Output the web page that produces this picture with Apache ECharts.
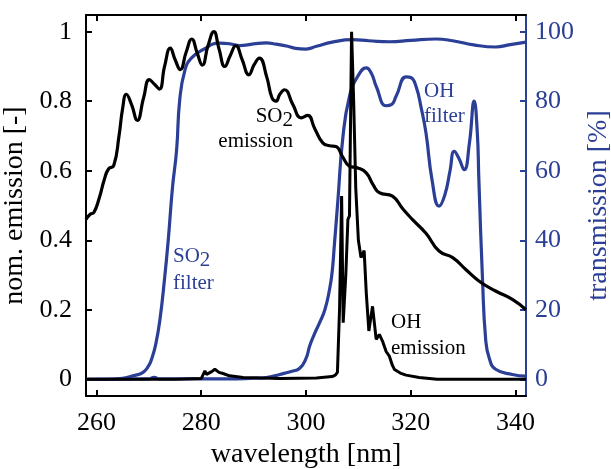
<!DOCTYPE html>
<html>
<head>
<meta charset="utf-8">
<script src="https://cdn.jsdelivr.net/npm/echarts@6.0.0/dist/echarts.min.js"></script>
<style>
  html, body { margin: 0; padding: 0; background: #fff; }
  #chart { width: 611px; height: 469px; }
</style>
</head>
<body>
<div id="chart"></div>
<script>
// tick labels
const xTicks = [260, 280, 300, 320, 340];
const leftTicks = [0, 0.2, 0.4, 0.6, 0.8, 1];
const rightTicks = [0, 20, 40, 60, 80, 100];

// SO2 emission (normalised, left axis)
const so2EmWl = [258.0, 258.8, 259.5, 260.5, 261.5, 262.3, 263.3, 264.3, 265.0, 265.7, 266.7, 267.8, 269.0, 270.1, 271.0, 272.0, 273.0, 274.1, 275.0, 276.0, 277.1, 278.2, 279.2, 280.2, 281.3, 282.4, 283.4, 284.5, 285.5, 286.6, 287.8, 289.1, 290.1, 291.1, 292.5, 293.5, 294.3, 295.0, 295.9, 297.5, 299.1, 300.3, 301.7, 303.2, 304.5, 305.7, 307.0, 308.3, 309.9, 311.5, 312.8, 314.0, 316.5, 318.5, 320.3, 322.9, 325.4, 328.0, 330.5, 333.0, 336.2, 339.4, 342.0];
const so2EmVal = [0.46, 0.475, 0.48, 0.52, 0.575, 0.605, 0.615, 0.70, 0.78, 0.82, 0.79, 0.745, 0.81, 0.862, 0.85, 0.835, 0.90, 0.953, 0.92, 0.891, 0.94, 0.979, 0.94, 0.904, 0.96, 1.0, 0.95, 0.90, 0.93, 0.96, 0.92, 0.876, 0.905, 0.924, 0.87, 0.81, 0.80, 0.82, 0.833, 0.79, 0.752, 0.759, 0.72, 0.68, 0.672, 0.67, 0.64, 0.613, 0.608, 0.594, 0.56, 0.537, 0.527, 0.49, 0.46, 0.42, 0.369, 0.35, 0.316, 0.283, 0.254, 0.23, 0.20];

// OH emission (normalised, left axis)
const ohEmWl = [258.0, 275.0, 280.0, 280.7, 281.0, 282.0, 282.6, 283.4, 284.3, 285.4, 288.0, 295.0, 302.0, 305.0, 305.6, 306.0, 306.4, 306.8, 307.1, 307.6, 308.0, 308.3, 308.7, 309.1, 309.5, 310.0, 310.5, 310.8, 311.1, 311.5, 312.0, 312.7, 313.4, 314.0, 314.6, 315.3, 315.9, 316.5, 316.9, 318.0, 319.1, 321.6, 325.0, 342.0];
const ohEmVal = [0, 0, 0.002, 0.024, 0.014, 0.022, 0.029, 0.02, 0.016, 0.01, 0.005, 0.002, 0.004, 0.008, 0.012, 0.02, 0.2, 0.527, 0.163, 0.30, 0.46, 0.47, 1.0, 0.80, 0.55, 0.40, 0.35, 0.345, 0.37, 0.25, 0.139, 0.21, 0.115, 0.129, 0.11, 0.08, 0.067, 0.04, 0.028, 0.018, 0.012, 0.005, 0.0, 0.0];

// SO2 filter transmission (%, right axis)
const so2FiWl = [258.0, 262.0, 265.0, 267.0, 268.9, 270.0, 270.5, 271.3, 272.1, 273.0, 273.7, 274.5, 275.3, 275.9, 276.9, 278.1, 280.3, 283.5, 285.5, 287.3, 290.0, 292.4, 294.3, 296.5, 298.0, 300.0, 302.0, 305.0, 308.9, 312.0, 316.0, 320.0, 324.8, 328.0, 332.0, 336.2, 339.0, 342.0];
const so2FiVal = [0, 0, 0.3, 1.0, 2.0, 4.0, 5.7, 10, 17, 29, 40, 55, 66, 80.5, 89, 92.4, 94.8, 96.7, 96.5, 96.0, 96.5, 96.8, 96.4, 95.8, 95.2, 95.0, 95.8, 97.0, 97.7, 97.4, 97.1, 97.5, 97.9, 97.4, 96.2, 95.6, 96.3, 97.0];

// OH filter transmission (%, right axis)
const ohFiWl = [258.0, 270.0, 271.0, 272.0, 285.0, 290.0, 292.4, 295.0, 297.0, 298.8, 300.0, 300.7, 301.6, 302.6, 303.6, 304.5, 305.0, 305.4, 306.1, 307.0, 308.3, 309.9, 311.5, 312.5, 313.4, 315.3, 316.3, 317.2, 319.1, 320.0, 321.0, 322.0, 322.9, 324.1, 325.4, 326.5, 327.5, 328.3, 329.2, 330.2, 331.2, 332.1, 332.7, 333.0, 333.7, 334.3, 335.0, 336.2, 339.4, 342.0];
const ohFiVal = [0, 0.1, 0.6, 0.1, 0.1, 0.3, 0.5, 1.4, 2.2, 3.2, 6.0, 9.6, 13, 16.3, 20, 25.9, 31, 38.3, 51.7, 69, 81.4, 87.2, 89.6, 88, 84.3, 78.7, 79, 81.4, 87, 86.8, 84.3, 78, 70.9, 57, 49.8, 53, 60, 65.6, 63.5, 60.3, 68, 80, 71, 57.5, 28.7, 11.5, 6, 2.9, 1.4, 0.9];

const pairs = (xs, ys) => xs.map((x, i) => [x, ys[i]]);

const FONT = '"Liberation Serif", "DejaVu Serif", serif';
const BLUE = '#2b3f96';
const BLACK = '#000';

let chart = echarts.init(document.getElementById('chart'));

function label(text, x, y, color, align) {
    return {
        type: 'text', x: x, y: y, z: 100,
        style: {
            text: text, fill: color, font: '21px ' + FONT,
            align: align, verticalAlign: 'middle'
        }
    };
}

const option = {
    animation: false,
    backgroundColor: '#fff',
    grid: { left: 86, right: 85, top: 15, bottom: 73, containLabel: false, outerBoundsMode: 'none' },
    xAxis: [{
        type: 'value', min: 258, max: 342, position: 'bottom',
        axisLine: { show: true, onZero: false, lineStyle: { color: BLACK, width: 2 } },
        axisTick: { show: true, inside: true, length: 6, customValues: xTicks, lineStyle: { color: BLACK, width: 2 } },
        axisLabel: { customValues: xTicks, fontFamily: FONT, fontSize: 26, color: BLACK, margin: 14 },
        splitLine: { show: false },
        name: 'wavelength [nm]', nameLocation: 'middle', nameGap: 41,
        nameTextStyle: { fontFamily: FONT, fontSize: 28, color: BLACK }
    }, {
        type: 'value', min: 258, max: 342, position: 'top',
        axisLine: { show: true, onZero: false, lineStyle: { color: BLACK, width: 2 } },
        axisTick: { show: true, inside: true, length: 6, customValues: xTicks, lineStyle: { color: BLACK, width: 2 } },
        axisLabel: { show: false },
        splitLine: { show: false }
    }],
    yAxis: [{
        type: 'value', min: -0.048, max: 1.048, position: 'left',
        axisLine: { show: true, onZero: false, lineStyle: { color: BLACK, width: 2 } },
        axisTick: { show: true, inside: true, length: 6, customValues: leftTicks, lineStyle: { color: BLACK, width: 2 } },
        axisLabel: { customValues: leftTicks, fontFamily: FONT, fontSize: 26, color: BLACK, margin: 14 },
        splitLine: { show: false },
        name: 'nom. emission [-]', nameLocation: 'middle', nameGap: 37,
        nameTextStyle: { fontFamily: FONT, fontSize: 28, color: BLACK }
    }, {
        type: 'value', min: -4.8, max: 104.8, position: 'right',
        axisLine: { show: true, onZero: false, lineStyle: { color: BLUE, width: 2 } },
        axisTick: { show: true, inside: true, length: 6, customValues: rightTicks, lineStyle: { color: BLUE, width: 2 } },
        axisLabel: { customValues: rightTicks, fontFamily: FONT, fontSize: 26, color: BLUE, margin: 9 },
        splitLine: { show: false },
        name: 'transmission [%]', nameLocation: 'middle', nameGap: 57,
        nameTextStyle: { fontFamily: FONT, fontSize: 28, color: BLUE }
    }],
    series: [{
        name: 'SO2 filter', type: 'line', yAxisIndex: 1, showSymbol: false,
        smooth: 0.5,
        lineStyle: { color: BLUE, width: 3.2 },
        data: pairs(so2FiWl, so2FiVal)
    }, {
        name: 'OH filter', type: 'line', yAxisIndex: 1, showSymbol: false,
        smooth: 0.5,
        lineStyle: { color: BLUE, width: 3.2 },
        data: pairs(ohFiWl, ohFiVal)
    }, {
        name: 'SO2 emission', type: 'line', yAxisIndex: 0, showSymbol: false,
        smooth: 0.5,
        lineStyle: { color: BLACK, width: 3.2 },
        data: pairs(so2EmWl, so2EmVal)
    }, {
        name: 'OH emission', type: 'line', yAxisIndex: 0, showSymbol: false,
        lineStyle: { color: BLACK, width: 3 },
        data: pairs(ohEmWl, ohEmVal)
    }],
    graphic: [
        // SO2 emission
        label('SO', 282.5, 116, BLACK, 'right'),
        label('2', 293, 120, BLACK, 'right'),
        label('emission', 293, 141, BLACK, 'right'),
        // OH filter
        label('OH', 424, 91, BLUE, 'left'),
        label('filter', 424, 116, BLUE, 'left'),
        // SO2 filter
        label('SO', 173, 256, BLUE, 'left'),
        label('2', 199.8, 260, BLUE, 'left'),
        label('filter', 173, 283, BLUE, 'left'),
        // OH emission
        label('OH', 391, 322, BLACK, 'left'),
        label('emission', 391, 348, BLACK, 'left')
    ]
};

chart.setOption(option);
</script>
</body>
</html>
